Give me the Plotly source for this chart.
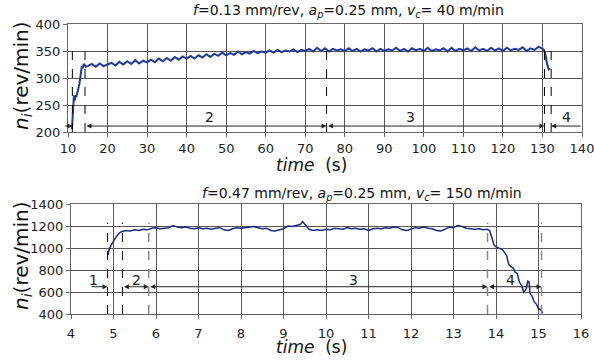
import plotly.graph_objects as go

# ---------------- data ----------------
top_time = [11.0, 11.2, 11.4, 11.5, 11.7, 11.9, 12.1, 12.4, 12.6, 12.9, 13.1, 13.3, 13.5, 13.7, 14.0, 14.5,
            15, 16, 17, 18, 19, 20,
            21, 22, 23, 24, 25, 26, 27, 28, 29, 30,
            31, 32, 33, 34, 35, 36, 37, 38, 39, 40,
            41, 42, 43, 44, 45, 46, 47, 48, 49, 50,
            51, 52, 53, 54, 55, 56, 57, 58, 59, 60,
            61, 62, 63, 64, 65, 66, 67, 68, 69, 70,
            71, 72, 73, 74, 75, 76, 77, 78, 79, 80,
            81, 82, 83, 84, 85, 86, 87, 88, 89, 90,
            91, 92, 93, 94, 95, 96, 97, 98, 99, 100,
            101, 102, 103, 104, 105, 106, 107, 108, 109, 110,
            111, 112, 113, 114, 115, 116, 117, 118, 119, 120,
            121, 122, 123, 124, 125, 126, 127, 128, 129, 130,
            130.3, 130.6, 131.0, 131.3, 131.6, 131.9]
top_speed = [205, 230, 255, 268, 258, 268, 265, 272, 280, 290, 305, 315, 322, 318, 326, 321,
             322, 326, 321, 327, 322, 325,
             328, 323, 330, 325, 331, 326, 333, 327, 332, 329,
             334, 329, 336, 331, 337, 332, 339, 334, 340, 336,
             341, 336, 342, 338, 344, 339, 345, 341, 347, 342,
             346, 343, 349, 344, 348, 345, 350, 346, 349, 347,
             351, 347, 352, 348, 351, 349, 353, 348, 352, 350,
             354, 349, 356, 350, 355, 349, 354, 351, 353, 350,
             355, 350, 354, 349, 353, 351, 355, 349, 354, 350,
             353, 351, 356, 350, 354, 349, 355, 351, 354, 350,
             356, 350, 353, 351, 355, 349, 356, 350, 354, 351,
             355, 350, 357, 351, 354, 350, 356, 351, 355, 350,
             356, 351, 354, 352, 357, 350, 355, 352, 358, 354,
             353, 348, 330, 322, 316, 318]

bot_time = [4.87, 4.9, 4.95, 5.0, 5.05, 5.1, 5.15,
            5.2, 5.3, 5.4, 5.5, 5.6, 5.7, 5.8, 5.9, 6.0, 6.1, 6.2, 6.3, 6.4, 6.5, 6.6, 6.7, 6.8, 6.9,
            7.0, 7.1, 7.2, 7.3, 7.4, 7.5, 7.6, 7.7, 7.8, 7.9, 8.0, 8.1, 8.2, 8.3, 8.4, 8.5, 8.6, 8.7,
            8.8, 8.9, 9.0, 9.1, 9.2, 9.3, 9.4, 9.45, 9.5, 9.6, 9.7, 9.8, 9.9, 10.0, 10.1, 10.2, 10.3,
            10.4, 10.5, 10.6, 10.7, 10.8, 10.9, 11.0, 11.1, 11.2, 11.3, 11.4, 11.5, 11.6, 11.7, 11.8,
            11.9, 12.0, 12.1, 12.2, 12.3, 12.4, 12.5, 12.6, 12.7, 12.8, 12.9, 13.0, 13.1, 13.2, 13.3,
            13.4, 13.5, 13.6, 13.7, 13.8, 13.85, 13.9, 13.95, 14.0, 14.05, 14.1, 14.15, 14.2, 14.25,
            14.3, 14.35, 14.4, 14.45, 14.5, 14.55, 14.6, 14.65, 14.7, 14.75, 14.78, 14.8, 14.85, 14.9,
            14.95, 15.0, 15.05, 15.1]
bot_speed = [935, 990, 1030, 1070, 1095, 1120, 1140,
             1150, 1160, 1155, 1165, 1160, 1170, 1165, 1180, 1185, 1175, 1180, 1185, 1205, 1190, 1185, 1190, 1180, 1175,
             1185, 1175, 1180, 1170, 1180, 1185, 1165, 1160, 1175, 1185, 1180, 1185, 1190, 1195, 1185, 1175, 1180, 1160,
             1155, 1165, 1175, 1200, 1195, 1205, 1215, 1240, 1215, 1170, 1160, 1165, 1160, 1170, 1165, 1180, 1175,
             1170, 1185, 1175, 1180, 1170, 1175, 1160, 1175, 1180, 1175, 1185, 1180, 1190, 1185, 1165,
             1160, 1175, 1185, 1180, 1190, 1180, 1175, 1160, 1155, 1170, 1190, 1185, 1205, 1195, 1180,
             1175, 1170, 1175, 1165, 1170, 1160, 1100, 1030, 1010, 1000, 995, 985, 960, 930,
             850, 830, 820, 780, 770, 690, 660, 600, 620, 700, 690, 590, 560, 510,
             490, 450, 440, 410]

top_phase_bounds = [11.1, 14.3, 75.4, 130.5, 132.2]
bot_phase_bounds = [4.86, 5.21, 5.83, 13.8, 15.07]
phase_labels = ["1", "2", "3", "4"]
top_label_x = [8.7, 45.9, 96.5, 136.2]
bot_label_x = [4.52, 5.53, 10.64, 14.35]
top_yticks = [200, 250, 300, 350, 400]

top_title = "<i>f</i>=0.13 mm/rev, <i>a<sub>p</sub></i>=0.25 mm, <i>v<sub>c</sub></i>= 40 m/min"
bot_title = "<i>f</i>=0.47 mm/rev, <i>a<sub>p</sub></i>=0.25 mm, <i>v<sub>c</sub></i>= 150 m/min"

# ---------------- figure ----------------
W, H = 594, 362
FONT = "DejaVu Sans"

def px_x(p):
    return p / W

def px_y(p):
    return 1 - p / H

fig = go.Figure()
fig.add_trace(go.Scatter(x=top_time, y=top_speed, mode="lines",
                         line=dict(color="#1f3a9e", width=2), xaxis="x", yaxis="y",
                         showlegend=False, hoverinfo="skip"))
fig.add_trace(go.Scatter(x=bot_time, y=bot_speed, mode="lines",
                         line=dict(color="#1a2d82", width=1.5), xaxis="x2", yaxis="y2",
                         showlegend=False, hoverinfo="skip"))

axis_common = dict(showline=True, mirror=True, linecolor="#666", linewidth=1,
                   showgrid=True, gridcolor="#555", gridwidth=1,
                   ticks="outside", ticklen=4, tickcolor="#666", automargin=False,
                   ticklabeloverflow="allow",
                   tickfont=dict(family=FONT, size=13, color="#222"), zeroline=False)

fig.update_layout(
    width=W, height=H, autosize=False,
    margin=dict(l=0, r=0, t=0, b=0, pad=0),
    paper_bgcolor="white", plot_bgcolor="white",
    font=dict(family=FONT, color="#222"),
    xaxis=dict(domain=[px_x(68), px_x(582)], range=[10, 140], dtick=10, anchor="y", **axis_common),
    yaxis=dict(domain=[px_y(132), px_y(24)], range=[200, 400], tickvals=top_yticks,
               anchor="x", **axis_common),
    xaxis2=dict(domain=[px_x(71), px_x(581)], range=[4, 16], dtick=1, anchor="y2",
                ticklabelstandoff=3, **axis_common),
    yaxis2=dict(domain=[px_y(314), px_y(204)], range=[400, 1400], dtick=200, anchor="x2", **axis_common),
)

shapes = []
# dashed phase boundaries
for xb in top_phase_bounds:
    shapes.append(dict(type="line", xref="x", yref="y", x0=xb, x1=xb, y0=200, y1=363,
                       line=dict(color="black", width=1, dash="dash")))
for i, xb in enumerate(bot_phase_bounds):
    col = "black" if i < 2 else "#888"
    wid = 1 if i < 2 else 1.5
    shapes.append(dict(type="line", xref="x2", yref="y2", x0=xb, x1=xb, y0=400, y1=1230,
                       line=dict(color=col, width=wid, dash="dash")))
fig.update_layout(shapes=shapes)

ann = []
def arrow(xr, yr, x_head, x_tail, y, both=False):
    ann.append(dict(xref=xr, yref=yr, axref=xr, ayref=yr, x=x_head, y=y, ax=x_tail, ay=y,
                    text="", showarrow=True, arrowhead=2, arrowsize=1, arrowwidth=1,
                    arrowcolor="#222", standoff=0, startstandoff=0,
                    arrowside="end+start" if both else "end"))

ty = 211
arrow("x", "y", top_phase_bounds[0], 8.9, ty)
arrow("x", "y", top_phase_bounds[2], top_phase_bounds[1], ty, both=True)
arrow("x", "y", top_phase_bounds[3], top_phase_bounds[2], ty, both=True)
arrow("x", "y", top_phase_bounds[4], 140, ty)

by = 648
arrow("x2", "y2", bot_phase_bounds[0], 4.45, by)
arrow("x2", "y2", bot_phase_bounds[2], bot_phase_bounds[1], by, both=True)
arrow("x2", "y2", bot_phase_bounds[3], bot_phase_bounds[2], by, both=True)
arrow("x2", "y2", bot_phase_bounds[4], bot_phase_bounds[3], by, both=True)

for lab, lx in zip(phase_labels, top_label_x):
    ann.append(dict(xref="x", yref="y", x=lx, y=228, text=lab, showarrow=False,
                    font=dict(family=FONT, size=14, color="#222")))
for lab, lx in zip(phase_labels, bot_label_x):
    ann.append(dict(xref="x2", yref="y2", x=lx, y=712, text=lab, showarrow=False,
                    font=dict(family=FONT, size=14, color="#222")))

# titles
ann.append(dict(xref="paper", yref="paper", x=px_x(348), y=px_y(11), text=top_title, showarrow=False,
                xanchor="center", yanchor="middle", font=dict(family=FONT, size=14, color="#111")))
ann.append(dict(xref="paper", yref="paper", x=px_x(362), y=px_y(194), text=bot_title, showarrow=False,
                xanchor="center", yanchor="middle", font=dict(family=FONT, size=14, color="#111")))
# axis titles
for yc in (165, 347):
    ann.append(dict(xref="paper", yref="paper", x=px_x(311), y=px_y(yc), text="<i>time</i>  (s)",
                    showarrow=False, xanchor="center", yanchor="middle",
                    font=dict(family=FONT, size=17, color="#111")))
for yc in (76, 256):
    ann.append(dict(xref="paper", yref="paper", x=px_x(22), y=px_y(yc),
                    text="<i>n<sub>i</sub></i>(rev/min)", textangle=-90,
                    showarrow=False, xanchor="center", yanchor="middle",
                    font=dict(family=FONT, size=20, color="#111")))
fig.update_layout(annotations=ann)

# remove the default page margin so the 594x362 figure fills the window exactly
fig.write_html("out.html", config={"displayModeBar": False},
               post_script="document.body.style.margin='0';")
